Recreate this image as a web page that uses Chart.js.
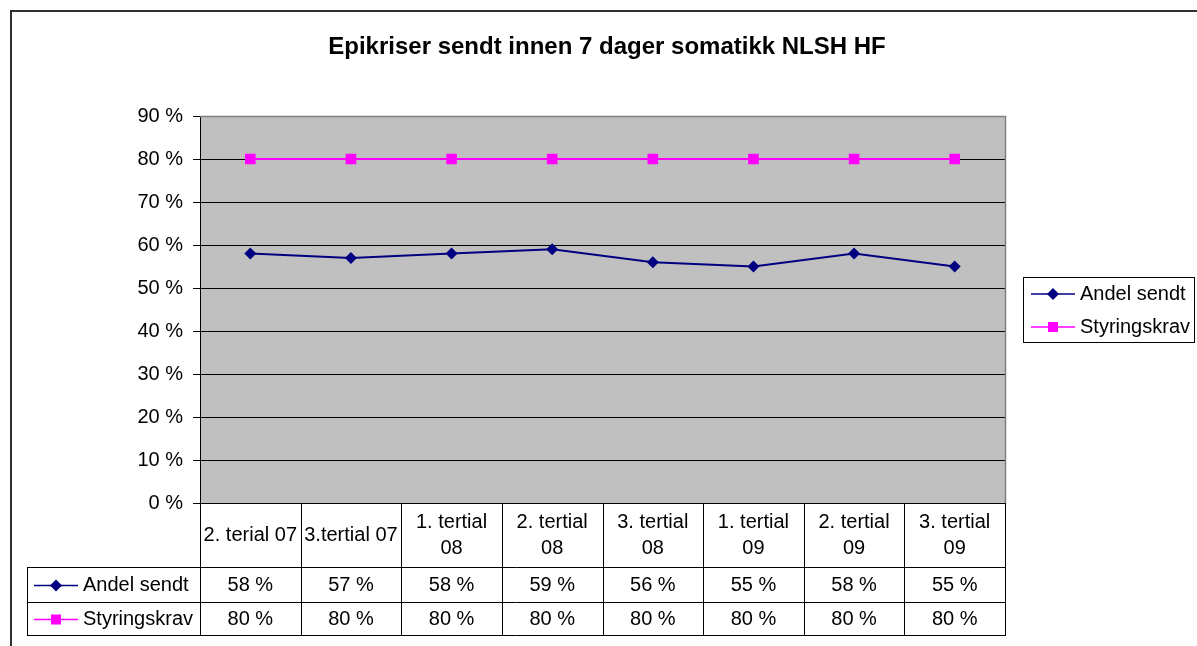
<!DOCTYPE html>
<html>
<head>
<meta charset="utf-8">
<script src="https://cdn.jsdelivr.net/npm/chart.js@4/dist/chart.umd.min.js"></script>
<style>
  html, body { margin: 0; padding: 0; background: #fff; }
  canvas { display: block; }
</style>
</head>
<body>
<canvas id="chart" width="1197" height="646"></canvas>
<script>
// data
const categories = [
    ['2. terial 07'], ['3.tertial 07'],
    ['1. tertial', '08'], ['2. tertial', '08'], ['3. tertial', '08'],
    ['1. tertial', '09'], ['2. tertial', '09'], ['3. tertial', '09']
];
const andelSendt = [58, 57, 58, 59, 56, 55, 58, 55];
const styringskrav = [80, 80, 80, 80, 80, 80, 80, 80];
const seriesNames = ['Andel sendt', 'Styringskrav'];
const yMin = 0, yMax = 90, yStep = 10;
const titleText = 'Epikriser sendt innen 7 dager somatikk NLSH HF';

const FONT = '"Liberation Sans", Arial, sans-serif';
const pct = v => v + ' %';

function drawMarker(ctx, style, x, y, color) {
    ctx.save();
    ctx.fillStyle = color;
    ctx.beginPath();
    if (style === 'rectRot') {
        ctx.moveTo(x, y - 6);
        ctx.lineTo(x + 6, y);
        ctx.lineTo(x, y + 6);
        ctx.lineTo(x - 6, y);
        ctx.closePath();
    } else {
        ctx.rect(x - 5, y - 5, 10, 10);
    }
    ctx.fill();
    ctx.restore();
}

function drawKey(ctx, ds, x1, x2, y) {
    ctx.save();
    ctx.strokeStyle = ds.borderColor;
    ctx.lineWidth = 1.5;
    ctx.beginPath();
    ctx.moveTo(x1, y);
    ctx.lineTo(x2, y);
    ctx.stroke();
    ctx.restore();
    drawMarker(ctx, ds.pointStyle, (x1 + x2) / 2, y, ds.borderColor);
}

const plotBackground = {
    id: 'plotBackground',
    beforeDraw(chart) {
        const { ctx, chartArea: a } = chart;
        ctx.save();
        ctx.fillStyle = '#fff';
        ctx.fillRect(0, 0, chart.width, chart.height);
        ctx.fillStyle = '#c0c0c0';
        ctx.fillRect(a.left, a.top, a.right - a.left, a.bottom - a.top);
        ctx.restore();
    },
    beforeDatasetsDraw(chart) {
        const { ctx, chartArea: a } = chart;
        ctx.save();
        ctx.strokeStyle = '#808080';
        ctx.lineWidth = 1.5;
        ctx.beginPath();
        ctx.moveTo(a.left, a.top + 0.5);
        ctx.lineTo(a.right + 0.5, a.top + 0.5);
        ctx.lineTo(a.right + 0.5, a.bottom);
        ctx.stroke();
        ctx.restore();
    }
};

const tableAndLegend = {
    id: 'tableAndLegend',
    afterDraw(chart) {
        const { ctx, chartArea: a } = chart;
        const xs = chart.scales.x;
        const n = categories.length;
        const colW = (a.right - a.left) / n;
        const datasets = chart.data.datasets;

        ctx.save();
        // outer frame
        ctx.strokeStyle = '#303030';
        ctx.lineWidth = 2;
        ctx.strokeRect(11, 11, 1400, 1000);

        // title
        ctx.fillStyle = '#000';
        ctx.font = 'bold 24px ' + FONT;
        ctx.textAlign = 'center';
        ctx.textBaseline = 'middle';
        ctx.fillText(titleText, 607, 47);

        // data table
        const rowTop = a.bottom;
        const row1 = 567, row2 = 602, row3 = 635;
        const tabLeft = 27;
        ctx.strokeStyle = '#000';
        ctx.lineWidth = 1;
        ctx.beginPath();
        ctx.moveTo(a.left - 7, rowTop + 0.5);
        ctx.lineTo(a.right + 1, rowTop + 0.5);
        [row1, row2, row3].forEach(y => {
            ctx.moveTo(tabLeft, y + 0.5);
            ctx.lineTo(a.right + 1, y + 0.5);
        });
        ctx.moveTo(tabLeft + 0.5, row1);
        ctx.lineTo(tabLeft + 0.5, row3 + 1);
        for (let i = 0; i <= n; i++) {
            const x = Math.round(a.left + i * colW) + 0.5;
            ctx.moveTo(x, rowTop);
            ctx.lineTo(x, row3 + 1);
        }
        ctx.stroke();

        ctx.font = '20px ' + FONT;
        ctx.textAlign = 'center';
        categories.forEach((lines, i) => {
            const cx = xs.getPixelForValue(i);
            const lh = 26;
            const y0 = (rowTop + row1) / 2 - (lines.length - 1) * lh / 2;
            lines.forEach((t, k) => ctx.fillText(t, cx, y0 + k * lh));
        });
        const rows = [[row1, row2], [row2, row3]];
        datasets.forEach((ds, d) => {
            const cy = (rows[d][0] + rows[d][1]) / 2 + 1;
            ds.data.forEach((v, i) => {
                ctx.textAlign = 'center';
                ctx.fillText(pct(v), xs.getPixelForValue(i), cy);
            });
            drawKey(ctx, ds, 34, 78, cy);
            ctx.textAlign = 'left';
            ctx.fillText(ds.label, 83, cy);
        });

        // legend on the right
        const lx = 1023, ly = 277, lw = 171, lh = 65;
        ctx.strokeStyle = '#000';
        ctx.strokeRect(lx + 0.5, ly + 0.5, lw, lh);
        datasets.forEach((ds, d) => {
            const cy = ly + 17 + d * 33;
            drawKey(ctx, ds, 1031, 1075, cy);
            ctx.textAlign = 'left';
            ctx.fillStyle = '#000';
            ctx.fillText(ds.label, 1080, cy);
        });
        ctx.restore();
    }
};

new Chart(document.getElementById('chart'), {
    type: 'line',
    data: {
        labels: categories,
        datasets: [{
            label: seriesNames[0],
            data: andelSendt,
            borderColor: '#000080',
            backgroundColor: '#000080',
            borderWidth: 2,
            pointStyle: 'rectRot',
            pointRadius: 6,
            pointBorderWidth: 0,
            tension: 0
        }, {
            label: seriesNames[1],
            data: styringskrav,
            borderColor: '#ff00ff',
            backgroundColor: '#ff00ff',
            borderWidth: 2,
            pointStyle: 'rect',
            pointRadius: 7.5,
            pointBorderWidth: 0,
            tension: 0
        }]
    },
    options: {
        responsive: false,
        animation: false,
        layout: { padding: { left: 130, top: 116, right: 192, bottom: 143 } },
        plugins: {
            legend: { display: false },
            title: { display: false },
            tooltip: { enabled: false }
        },
        scales: {
            x: {
                type: 'category',
                display: false,
                offset: true
            },
            y: {
                min: yMin,
                max: yMax,
                afterFit(scale) { scale.width = 70; },
                ticks: {
                    stepSize: yStep,
                    color: '#000',
                    padding: 10,
                    font: { family: FONT, size: 20 },
                    callback: v => pct(v)
                },
                grid: {
                    color: ctx => ctx.tick && ctx.tick.value === yMax ? '#808080' : '#000',
                    lineWidth: 1,
                    tickLength: 7,
                    tickColor: '#000'
                },
                border: { color: '#000', width: 1 }
            }
        }
    },
    plugins: [plotBackground, tableAndLegend]
});
</script>
</body>
</html>
